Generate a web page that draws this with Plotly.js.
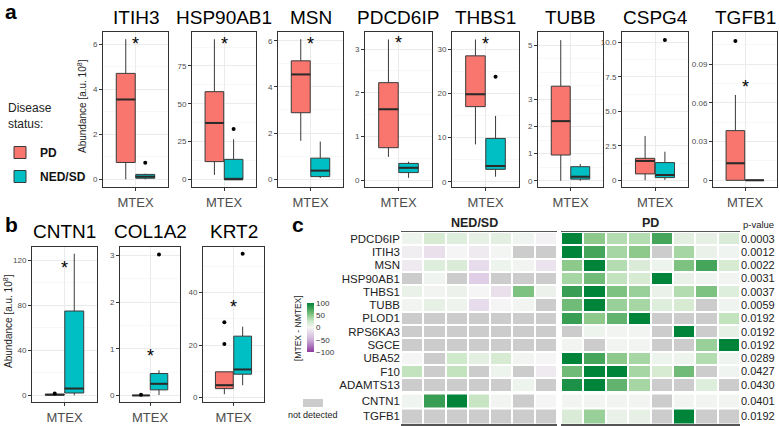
<!DOCTYPE html>
<html><head><meta charset="utf-8">
<script src="https://cdn.plot.ly/plotly-3.0.1.min.js"></script>
<style>html,body{margin:0;padding:0;background:#fff}#chart{width:780px;height:426px}</style>
</head><body><div id="chart"></div>
<script>
// ---------------- DATA ----------------
const boxGenes = ['ITIH3','HSP90AB1','MSN','PDCD6IP','THBS1','TUBB','CSPG4','TGFB1','CNTN1','COL1A2','KRT2'];
// [lower whisker, q1, median, q3, upper whisker]
const pdStats = [
  [0, 0.75, 3.55, 4.71, 6.23],
  [2.9, 11.7, 37.3, 58, 92.7],
  [1.66, 2.88, 4.54, 5.13, 6.07],
  [0.53, 0.74, 1.62, 2.23, 3.22],
  [8.45, 17.0, 19.8, 28.5, 32.2],
  [0, 0.95, 2.2, 3.49, 5.19],
  [0, 0.46, 1.4, 1.59, 3.21],
  [0, 0, 0.0132, 0.0385, 0.0662],
  [0, 0.2, 0.5, 0.9, 1.4],
  [0, 0, 0, 0, 0],
  [1.25, 3.4, 4.7, 9.8, 9.8]
];
const nedStats = [
  [0, 0.05, 0.12, 0.22, 0.25],
  [0, 0, 0, 13.2, 26.5],
  [0.05, 0.11, 0.37, 0.91, 1.63],
  [0.05, 0.17, 0.28, 0.38, 0.42],
  [1.13, 2.8, 3.55, 9.8, 14.9],
  [0, 0.06, 0.15, 0.52, 0.62],
  [0.02, 0.19, 0.38, 1.28, 2.07],
  [0, 0, 0, 0, 0],
  [0, 2, 6, 75, 126],
  [0.01, 0.12, 0.25, 0.47, 0.54],
  [4.7, 8.9, 10.7, 23.4, 27]
];
const pdOutliers  = [[], [], [], [], [], [], [], [0.108], [1.6], [0.015], [28.7, 20.4]];
const nedOutliers = [[0.74], [33.3], [], [], [23.75], [], [10.17], [], [], [3.02], [54.8]];
const starY = [6.2, 92.2, 6.03, 3.22, 32.2, null, null, 0.0752, 117, 0.93, 35.9];
const yTickVals = [[0,2,4,6],[0,25,50,75],[0,2,4,6],[0,1,2,3],[0,10,20,30],[0,1,2,3,5],[0,2.5,5,7.5,10],[0,0.03,0.06,0.09],[0,40,80,120],[0,1,2,3],[0,20,40]];
const yTickText = [null,null,null,null,null,null,['0','2.5','5.0','7.5','10.0'],['0','0.03','0.06','0.09'],null,null,null];
const groupNames = ['PD','NED/SD'];
const xCategory = ['MTEX'];

const heatGenes = ['PDCD6IP','ITIH3','MSN','HSP90AB1','THBS1','TUBB','PLOD1','RPS6KA3','SGCE','UBA52','F10','ADAMTS13','CNTN1','TGFB1'];
const pValues = ['0.0003','0.0012','0.0022','0.0031','0.0037','0.0059','0.0192','0.0192','0.0192','0.0289','0.0427','0.0430','0.0401','0.0192'];
const N = null; // not detected
const nedDiff = [
  [5, 20, 15, 10, 12, 3, -3],
  [-5, -15, 0, -8, 1, N, N],
  [-8, 15, 18, -18, 5, 2, -12],
  [N, 3, N, -28, N, N, N],
  [8, 2, 6, 0, -15, 55, 6],
  [2, 10, 4, -18, 0, 2, N],
  [N, N, N, N, N, N, N],
  [N, N, N, N, N, N, N],
  [N, N, N, N, N, N, N],
  [0, N, 25, 12, 20, 2, 0],
  [30, N, 30, N, 5, N, -8],
  [N, N, N, N, N, 5, N],
  [3, 80, 100, 28, 2, N, 0],
  [N, N, N, N, N, N, N]
];
const pdDiff = [
  [100, 50, 35, 35, 75, 12, 10, 18],
  [100, 75, 40, 50, N, 40, 8, 3],
  [50, 100, 35, 18, 5, 55, 75, 20],
  [40, 60, 30, 20, 100, 8, 3, 2],
  [80, 100, 55, 45, 8, 35, 55, 15],
  [60, 100, 45, 40, 15, 20, N, 3],
  [80, 50, 65, 100, N, N, N, 30],
  [N, 5, 2, 2, N, 100, N, 10],
  [2, N, 2, 2, N, N, 45, 100],
  [100, 75, 50, 40, 5, 5, 35, 3],
  [60, 100, 100, 40, 20, 60, N, 3],
  [90, 100, 65, 40, N, N, 15, N],
  [2, 2, 2, 2, N, 2, 2, 2],
  [18, 45, 8, 10, N, 100, N, N]
];

// ---------------- LAYOUT / STYLE ----------------
const W = 780, H = 426;
const px = v => v / W, py = v => 1 - v / H;
const FONT = 'Liberation Sans, Arial, Helvetica, sans-serif';
const framesX = [[103,168],[192,256],[278,343],[365,432],[452,519],[538,603],[622,688],[713,777],[32,97],[120,180],[203,264]];
const frameRowA = [32,187], frameRowB = [247,402];
const yRanges = [[-0.34,6.55],[-5.1,97.5],[-0.34,6.38],[-0.16,3.39],[-1.2,33.9],[-0.23,5.49],[-0.49,10.75],[-0.0052,0.115],[-6,132],[-0.14,3.18],[-1.7,57.4]];
const colors = {PD:'#F8766D', NED:'#00BFC4'};
const offs = [-0.18, 0.18];
const boxW = 0.35;

const traces = [];
const layout = {
  width: W, height: H, margin: {l:0, r:0, t:0, b:0},
  paper_bgcolor: '#fff', plot_bgcolor: '#fff',
  font: {family: FONT, color: '#222'},
  showlegend: true,
  legend: {x: 0, xanchor: 'left', y: py(138), yanchor: 'top',
    font: {size: 12, color: '#111', family: FONT, weight: 'bold'},
    bgcolor: 'rgba(0,0,0,0)', tracegroupgap: 5, traceorder: 'grouped'},
  annotations: [], shapes: []
};

boxGenes.forEach((g, i) => {
  const k = i + 1;
  const xa = 'x' + k, ya = 'y' + k;
  const rowY = i < 8 ? frameRowA : frameRowB;
  const stats = [pdStats[i], nedStats[i]];
  const outs = [pdOutliers[i], nedOutliers[i]];
  [0, 1].forEach(j => {
    const s = stats[j];
    const col = j === 0 ? colors.PD : colors.NED;
    traces.push({
      type: 'box', xaxis: xa, yaxis: ya, name: groupNames[j],
      legendgroup: groupNames[j], showlegend: i === 0,
      x: [offs[j]], lowerfence: [s[0]], q1: [s[1]], median: [s[2]], q3: [s[3]], upperfence: [s[4]],
      width: boxW, whiskerwidth: 0, fillcolor: col,
      line: {color: '#3a3a3a', width: 1}, boxpoints: false, hoverinfo: 'skip'
    });
    // thicker median bar (ggplot style)
    traces.push({
      type: 'scatter', mode: 'lines', xaxis: xa, yaxis: ya, showlegend: false,
      x: [offs[j] - boxW / 2, offs[j] + boxW / 2], y: [s[2], s[2]],
      line: {color: '#2a2a2a', width: 2}, hoverinfo: 'skip'
    });
    if (outs[j].length) {
      traces.push({
        type: 'scatter', mode: 'markers', xaxis: xa, yaxis: ya, showlegend: false,
        x: outs[j].map(() => offs[j]), y: outs[j],
        marker: {color: '#000', size: 4}, hoverinfo: 'skip'
      });
    }
  });
  const tv = yTickVals[i];
  const step = tv[1] - tv[0];
  const minor = [];
  for (let v = tv[0] - step / 2; v <= yRanges[i][1]; v += step / 2) {
    if (v >= yRanges[i][0] && !tv.some(t => Math.abs(t - v) < step * 1e-6)) minor.push(v);
  }
  layout['xaxis' + k] = {
    domain: [px(framesX[i][0]), px(framesX[i][1])], anchor: ya,
    range: [-0.6, 0.6], tickmode: 'array', tickvals: [0], ticktext: xCategory,
    tickfont: {size: 13, color: '#4d4d4d'}, ticks: 'outside', ticklen: 3, tickcolor: '#333',
    showgrid: true, gridcolor: '#ebebeb', gridwidth: 1, zeroline: false,
    showline: true, mirror: true, linecolor: '#333', linewidth: 1, fixedrange: true
  };
  layout['yaxis' + k] = {
    domain: [py(rowY[1]), py(rowY[0])], anchor: xa,
    range: yRanges[i], tickmode: 'array', tickvals: tv, ticktext: yTickText[i] || tv.map(String),
    tickfont: {size: 8, color: '#4d4d4d'}, ticks: 'outside', ticklen: 3, tickcolor: '#333',
    showgrid: true, gridcolor: '#ebebeb', gridwidth: 1, zeroline: false,
    minor: {tickmode: 'array', tickvals: minor, showgrid: true, gridcolor: '#f3f3f3', gridwidth: 0.6, ticks: ''},
    showline: true, mirror: true, linecolor: '#333', linewidth: 1, fixedrange: true
  };
  layout.annotations.push({xref: 'paper', yref: 'paper', x: px((framesX[i][0] + framesX[i][1]) / 2),
    y: py(i < 8 ? 17.5 : 231), text: g, showarrow: false, xanchor: 'center', yanchor: 'middle',
    font: {size: 19, color: '#000', family: FONT}});
  if (starY[i] !== null) {
    layout.annotations.push({xref: xa, yref: ya, x: 0, y: starY[i], text: '*', showarrow: false,
      xanchor: 'center', yanchor: 'middle', yshift: -4, font: {size: 18, color: '#000', family: FONT}});
  }
});

// Heatmap (panel c)
const nedX = [401, 557], pdX = [561, 740];
const topY = [232, 391.5], botY = [393.5, 424];
const cscale = [[0,'#8e3b9e'],[0.25,'#cdb0d8'],[0.5,'#f5f5f5'],[0.625,'#cfe9cb'],[0.75,'#8cc98b'],[0.875,'#45a55a'],[1,'#00843a']];
const groups = [
  {k: 12, data: nedDiff.slice(0, 12), xd: nedX, yd: topY, side: 'top', yside: 'left', labels: heatGenes.slice(0, 12)},
  {k: 13, data: pdDiff.slice(0, 12), xd: pdX, yd: topY, side: 'top', yside: 'right', labels: pValues.slice(0, 12)},
  {k: 14, data: nedDiff.slice(12), xd: nedX, yd: botY, side: 'bottom', yside: 'left', labels: heatGenes.slice(12)},
  {k: 15, data: pdDiff.slice(12), xd: pdX, yd: botY, side: 'bottom', yside: 'right', labels: pValues.slice(12)}
];
groups.forEach((gr, gi) => {
  const xa = 'x' + gr.k, ya = 'y' + gr.k;
  const nc = gr.data[0].length, nr = gr.data.length;
  const xs = [...Array(nc).keys()], ys = [...Array(nr).keys()];
  traces.push({type: 'heatmap', xaxis: xa, yaxis: ya, x: xs, y: ys,
    z: gr.data.map(r => r.map(v => v === null ? 1 : null)),
    colorscale: [[0,'#cccccc'],[1,'#cccccc']], zmin: 0, zmax: 1, showscale: false,
    xgap: 2, ygap: 2, hoverinfo: 'skip'});
  const t = {type: 'heatmap', xaxis: xa, yaxis: ya, x: xs, y: ys, z: gr.data,
    colorscale: cscale, zmin: -100, zmax: 100, showscale: gi === 0,
    xgap: 2, ygap: 2, hoverinfo: 'skip'};
  if (gi === 0) {
    t.colorbar = {x: px(307), xanchor: 'left', xref: 'paper', y: py(327.5), yanchor: 'middle', yref: 'paper',
      len: 49, lenmode: 'pixels', thickness: 7, thicknessmode: 'pixels', outlinewidth: 0,
      xpad: 0, ypad: 0, tickmode: 'array', tickvals: [-100, -50, 0, 50, 100], ticks: '',
      tickfont: {size: 8, color: '#333', family: FONT}};
  }
  traces.push(t);
  layout['xaxis' + gr.k] = {domain: [px(gr.xd[0]), px(gr.xd[1])], anchor: ya, side: gr.side,
    range: [-0.5, nc - 0.5], showticklabels: false, ticks: '', showgrid: false, zeroline: false,
    showline: true, linecolor: '#555', linewidth: 1.5, fixedrange: true};
  layout['yaxis' + gr.k] = {domain: [py(gr.yd[1]), py(gr.yd[0])], anchor: xa, side: gr.yside,
    range: [nr - 0.5, -0.5], tickmode: 'array', tickvals: ys, ticktext: gr.labels,
    tickfont: {size: gr.yside === 'left' ? 11.5 : 11, color: '#222', family: FONT},
    ticks: '', showgrid: false, zeroline: false, showline: false, fixedrange: true};
});

// Text annotations
const ann = (x, y, text, size, opts) => layout.annotations.push(Object.assign({xref: 'paper', yref: 'paper',
  x: px(x), y: py(y), text, showarrow: false, xanchor: 'center', yanchor: 'middle',
  font: {size, color: '#222', family: FONT}}, opts || {}));
ann(3, 12, '<b>a</b>', 21, {xanchor: 'left', font: {size: 21, color: '#000', family: FONT}});
ann(3, 225, '<b>b</b>', 21, {xanchor: 'left', font: {size: 21, color: '#000', family: FONT}});
ann(290, 225, '<b>c</b>', 21, {xanchor: 'left', font: {size: 21, color: '#000', family: FONT}});
ann(6, 116, 'Disease<br>status:', 12, {xanchor: 'left', align: 'left'});
ann(82, 106, 'Abundance [a.u. 10<sup>8</sup>]', 10, {textangle: -90});
ann(8, 321, 'Abundance [a.u. 10<sup>8</sup>]', 10, {textangle: -90});
ann(475, 223, '<b>NED/SD</b>', 12.5);
ann(650, 223, '<b>PD</b>', 12.5);
ann(758, 225, 'p-value', 9.5);
ann(298, 328, '[MTEX - NMTEX]', 8.5, {textangle: -90});
ann(313, 415, 'not detected', 9);
layout.shapes.push({type: 'rect', xref: 'paper', yref: 'paper', x0: px(303), x1: px(323), y0: py(407), y1: py(399),
  fillcolor: '#cccccc', line: {width: 0}});

Plotly.newPlot('chart', traces, layout, {staticPlot: true, displayModeBar: false});
</script></body></html>
